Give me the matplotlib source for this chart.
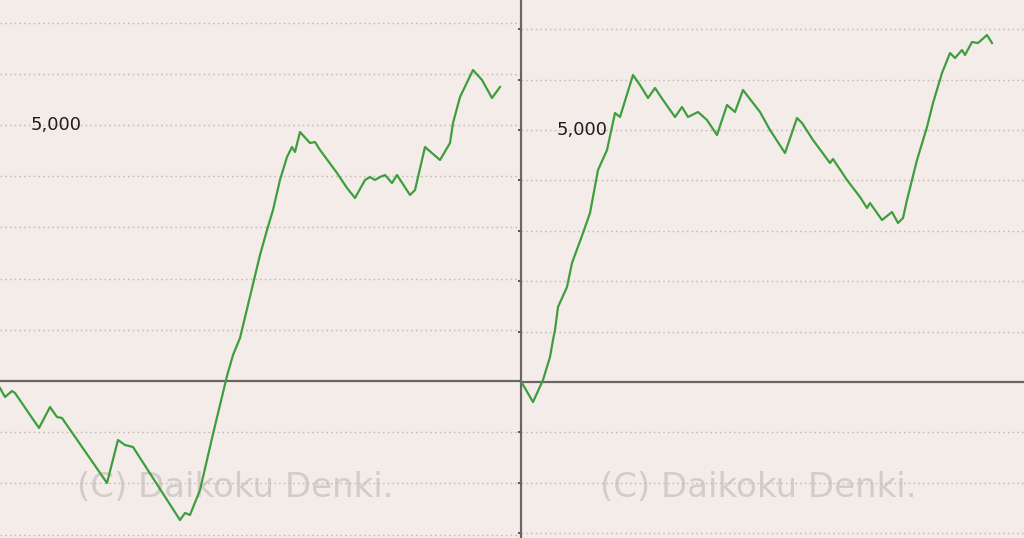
import numpy as np
import matplotlib as mpl
mpl.use('Agg')
from matplotlib import pyplot as plt

# left chart (continues from an earlier part, no own axis)
x_left = [0, 5, 12, 15, 39, 50, 57, 62, 107, 118, 125, 133, 180, 185, 190, 200, 213, 227,
          233, 240, 260, 267, 273, 280, 287, 292, 295, 300, 310, 315, 320, 337, 347, 355,
          365, 370, 375, 380, 385, 392, 397, 410, 415, 425, 440, 450, 453, 460, 473, 482,
          492, 500]
y_left = [-137, -312, -195, -234, -918, -508, -703, -723, -1992, -1152, -1250, -1289, -2715,
          -2578, -2617, -2129, -1035, 98, 508, 840, 2461, 2949, 3340, 3928, 4375, 4570, 4473,
          4863, 4648, 4668, 4512, 4063, 3770, 3574, 3926, 3984, 3926, 3984, 4023, 3867, 4023,
          3633, 3730, 4570, 4316, 4648, 5039, 5547, 6074, 5879, 5527, 5742]

# right chart
x_right = [1, 12, 22, 29, 32, 34, 37, 46, 51, 62, 69, 77, 86, 94, 99, 112, 119, 127, 134,
           142, 154, 161, 167, 177, 186, 196, 206, 214, 222, 239, 249, 264, 276, 281, 292,
           309, 312, 326, 339, 346, 349, 361, 371, 377, 382, 386, 396, 406, 412, 421, 429,
           434, 441, 444, 451, 457, 466, 471]
y_right = [-20, -397, 40, 496, 833, 1032, 1488, 1885, 2361, 2956, 3353, 4206, 4603, 5337,
           5258, 6091, 5892, 5635, 5833, 5595, 5258, 5456, 5258, 5357, 5198, 4900, 5496, 5357,
           5793, 5357, 5000, 4543, 5238, 5139, 4801, 4345, 4424, 4008, 3670, 3452, 3551, 3214,
           3373, 3155, 3254, 3611, 4404, 5059, 5535, 6131, 6527, 6428, 6587, 6488, 6746, 6726,
           6884, 6726]

grid_vals = np.arange(-3000, 8000, 1000)
bg = '#f4ece8'
line_c = '#3e9e3e'
axis_c = '#6b6462'
wm = '(C) Daikoku Denki.'

fig = plt.figure(figsize=(10.24, 5.38), dpi=100)
fig.patch.set_facecolor(bg)

ax1 = fig.add_axes([0, 0, 521 / 1024, 1])
ax2 = fig.add_axes([521 / 1024, 0, 503 / 1024, 1])

for ax, xs, ys, ylim, xmax, wx in [(ax1, x_left, y_left, (-3066, 7441), 521, 0.452),
                                   (ax2, x_right, y_right, (-3095, 7579), 503, 0.472)]:
    ax.set_facecolor(bg)
    ax.set_xlim(0, xmax)
    ax.set_ylim(*ylim)
    # watermark sits under grid and line
    ax.text(wx, 0.093, wm, transform=ax.transAxes, ha='center', va='center',
            fontsize=24.5, color='#d3ccc9', zorder=0.5)
    for g in grid_vals:
        if g == 0:
            continue
        ax.axhline(g, color='#c4bcb8', lw=1.0, ls=(0, (1.2, 2.2)), zorder=1)
    ax.axhline(0, color=axis_c, lw=1.6, zorder=2)
    ax.plot(xs, ys, color=line_c, lw=1.6, zorder=3)
    for s in ax.spines.values():
        s.set_visible(False)
    ax.set_xticks([])
    ax.set_yticks([])

ax1.text(31, 5000, '5,000', ha='left', va='center', fontsize=13, color='#1e1e1e',
         fontweight='medium')
ax2.text(36, 5000, '5,000', ha='left', va='center', fontsize=13, color='#1e1e1e',
         fontweight='medium')

# right chart axis line with small ticks
ax2.spines['left'].set_visible(True)
ax2.spines['left'].set_color(axis_c)
ax2.spines['left'].set_linewidth(1.6)
ax2.set_yticks([g for g in grid_vals if g != 0])
ax2.tick_params(axis='y', direction='out', length=2.5, width=1.2, color='#3a3a3a',
                labelleft=False)

fig.savefig('out.png', dpi=100, facecolor=bg)
